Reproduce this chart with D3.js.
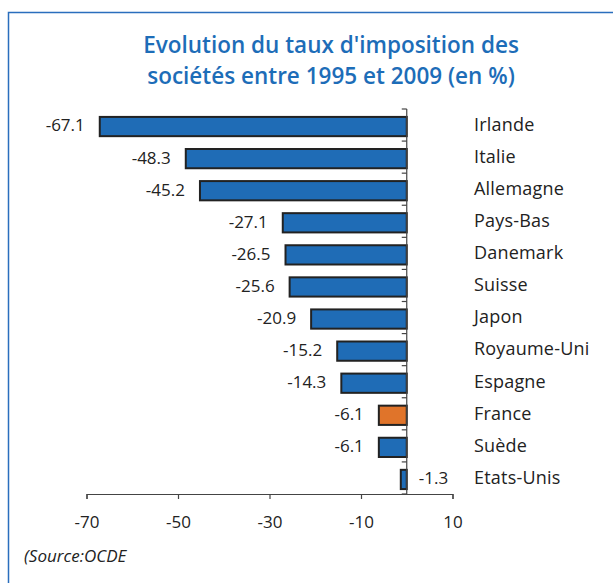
<!DOCTYPE html>
<html>
<head>
<meta charset="utf-8">
<script src="https://cdn.jsdelivr.net/npm/d3@7"></script>
<style>
  body { margin: 0; background: #fff; }
  svg { display: block; font-family: "Open Sans", Lato, sans-serif; }
  .title { fill: #1d6db8; font-weight: 600; font-size: 22.5px; }
  .lbl { fill: #222; font-size: 17px; }
  .cat { fill: #222; font-size: 18px; letter-spacing: 0.2px; }
  .axis text { fill: #222; font-size: 17px; font-family: "Open Sans", Lato, sans-serif; }
</style>
</head>
<body>
<div id="chart"></div>
<script>
'use strict';

// data (OCDE)
var countries = ['Irlande', 'Italie', 'Allemagne', 'Pays-Bas', 'Danemark', 'Suisse',
                 'Japon', 'Royaume-Uni', 'Espagne', 'France', 'Suède', 'Etats-Unis'];
var changes   = [-67.1, -48.3, -45.2, -27.1, -26.5, -25.6, -20.9, -15.2, -14.3, -6.1, -6.1, -1.3];
var xTicks    = [-70, -50, -30, -10, 10];
var highlight = 'France';

var width = 613, height = 583;

// plain hyphen instead of d3's unicode minus
var fmt1 = function (v) { return v.toFixed(1); };
var fmt0 = function (v) { return String(v); };

var svg = d3.select('#chart').append('svg')
    .attr('width', width)
    .attr('height', height);

// frame
svg.append('path')
    .attr('d', 'M8.5,' + height + ' L8.5,12.5 L' + width + ',12.5')
    .attr('fill', 'none')
    .attr('stroke', '#2a6ebd')
    .attr('stroke-width', 1.5);

// title, one text per line
svg.append('text').attr('class', 'title').attr('text-anchor', 'middle')
    .attr('x', 331).attr('y', 53).text("Evolution du taux d'imposition des");
svg.append('text').attr('class', 'title').attr('text-anchor', 'middle')
    .attr('x', 331).attr('y', 84).text('sociétés entre 1995 et 2009 (en %)');

var x = d3.scaleLinear().domain([-70, 10]).range([86.5, 452.5]);
var y = d3.scaleBand().domain(countries).range([109, 494]).paddingInner(0.4).paddingOuter(0.2);

var step = y.step();

// bars
var rows = svg.selectAll('g.row')
    .data(countries.map(function (c, i) { return { name: c, value: changes[i] }; }))
    .enter()
    .append('g')
    .attr('class', 'row')
    .attr('transform', function (d) { return 'translate(0,' + (y(d.name) + 1.5) + ')'; });

rows.append('rect')
    .attr('x', function (d) { return x(Math.min(0, d.value)); })
    .attr('width', function (d) { return Math.abs(x(d.value) - x(0)); })
    .attr('height', y.bandwidth())
    .attr('fill', function (d) { return d.name === highlight ? '#e0742a' : '#1f6cb6'; })
    .attr('stroke', '#222')
    .attr('stroke-width', 2);

// value labels
rows.append('text')
    .attr('class', 'lbl')
    .attr('x', function (d) {
        return Math.abs(d.value) < 3 ? x(0) + 12 : x(d.value) - 15;
    })
    .attr('y', y.bandwidth() / 2 - 1)
    .attr('dy', '0.35em')
    .attr('text-anchor', function (d) { return Math.abs(d.value) < 3 ? 'start' : 'end'; })
    .text(function (d) { return fmt1(d.value); });

// category labels
rows.append('text')
    .attr('class', 'cat')
    .attr('x', 474)
    .attr('y', y.bandwidth() / 2 - 2)
    .attr('dy', '0.35em')
    .text(function (d) { return d.name; });

// x axis
var xAxis = svg.append('g')
    .attr('class', 'axis')
    .attr('transform', 'translate(0,494)')
    .call(d3.axisBottom(x).tickValues(xTicks).tickSize(5).tickPadding(17).tickFormat(fmt0));
xAxis.select('.domain').attr('stroke', '#444').attr('stroke-width', 1.2);
xAxis.selectAll('.tick line').attr('stroke', '#444').attr('stroke-width', 1.2);

// zero axis with category ticks
var bounds = countries.map(function (c) { return y(c) - step * 0.2; });
bounds.push(494);
svg.append('line')
    .attr('x1', x(0)).attr('x2', x(0))
    .attr('y1', 109).attr('y2', 494)
    .attr('stroke', '#444').attr('stroke-width', 1.2);
svg.selectAll('line.ytick')
    .data(bounds)
    .enter()
    .append('line')
    .attr('class', 'ytick')
    .attr('x1', x(0) - 5).attr('x2', x(0))
    .attr('y1', function (d) { return d; }).attr('y2', function (d) { return d; })
    .attr('stroke', '#444').attr('stroke-width', 1.2);

// source
svg.append('text')
    .attr('class', 'lbl')
    .attr('x', 24).attr('y', 562)
    .style('font-style', 'italic')
    .text('(Source:OCDE');
</script>
</body>
</html>
